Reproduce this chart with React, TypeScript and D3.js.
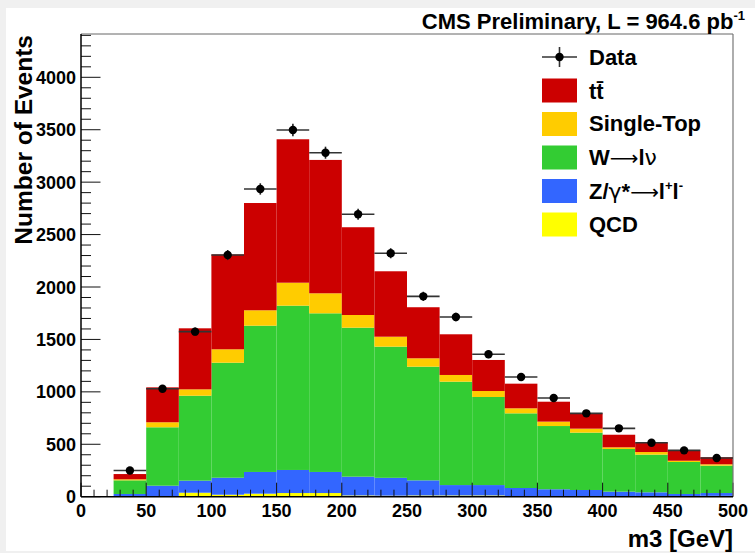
import React from 'react';
import * as d3 from 'd3';

// ---- data ----
const binLow = [25, 50, 75, 100, 125, 150, 175, 200, 225, 250, 275, 300, 325, 350, 375, 400, 425, 450, 475];
const binWidth = 25;
const qcd = [2, 5, 38, 19, 29, 35, 35, 12, 10, 12, 12, 12, 4, 3, 3, 2, 2, 3, 8];
const zll = [24, 100, 115, 162, 207, 220, 201, 179, 170, 144, 99, 99, 79, 68, 61, 46, 40, 23, 27];
const wjets = [130, 557, 810, 1097, 1395, 1567, 1513, 1421, 1251, 1084, 986, 840, 712, 603, 547, 407, 359, 305, 261];
const singleTop = [10, 48, 61, 128, 147, 219, 191, 121, 95, 80, 64, 57, 48, 42, 38, 16, 25, 12, 13];
const ttbar = [50, 333, 582, 904, 1023, 1368, 1272, 837, 624, 487, 388, 296, 235, 190, 146, 120, 89, 96, 67];
const dataCounts = [250, 1030, 1574, 2305, 2935, 3498, 3281, 2694, 2322, 1911, 1714, 1358, 1142, 941, 795, 652, 515, 442, 369];

const xTickLabels = [0, 50, 100, 150, 200, 250, 300, 350, 400, 450, 500];
const yTickLabels = [0, 500, 1000, 1500, 2000, 2500, 3000, 3500, 4000];
const seriesKeys = ['qcd', 'zll', 'wjets', 'singleTop', 'ttbar'];
const seriesColors: Record<string, string> = {
  qcd: '#ffff00',
  zll: '#3366ff',
  wjets: '#33cc33',
  singleTop: '#ffcc00',
  ttbar: '#cc0000',
};

const W = 755;
const H = 553;
const FL = 81, FR = 733, FT = 34, FB = 496.7;
const FONT = "'Liberation Sans', Arial, Helvetica, sans-serif";
const SYM = "'DejaVu Sans', sans-serif";

export default function App() {
  const x = d3.scaleLinear().domain([0, 500]).range([FL, FR]);
  const y = d3.scaleLinear().domain([0, 4413]).range([FB, FT]);

  const rows = binLow.map((lo, i) => ({
    lo,
    qcd: qcd[i],
    zll: zll[i],
    wjets: wjets[i],
    singleTop: singleTop[i],
    ttbar: ttbar[i],
  }));
  const stacked = d3.stack<any>().keys(seriesKeys)(rows);

  const xMinor = d3.range(0, 501, 10);
  const yMinor = d3.range(0, 4401, 100);

  const legendX = 542;
  const legendRow = (i: number) => 57 + i * 33.5;
  const legendFont = 22;

  return (
    <svg width={W} height={H} style={{ position: 'fixed', left: 0, top: 0 }} fontFamily={FONT}>
      <rect x={0} y={0} width={W} height={H} fill="#f0f0f0" />
      <rect x={6} y={8} width={W - 6} height={551 - 8} fill="#ffffff" />

      {/* stacked histograms */}
      {stacked.map((layer) => (
        <g key={layer.key}>
          {layer.map((d, i) => (
            <rect
              key={i}
              x={x(d.data.lo)}
              width={x(d.data.lo + binWidth) - x(d.data.lo)}
              y={y(d[1])}
              height={Math.max(0, y(d[0]) - y(d[1]))}
              fill={seriesColors[layer.key]}
            />
          ))}
        </g>
      ))}

      {/* axis ticks (drawn inside frame, on top) */}
      <g stroke="#111" strokeWidth={1}>
        {xMinor.map((t) => (
          <line key={'xm' + t} x1={x(t)} x2={x(t)} y1={FB} y2={FB - (t % 50 === 0 ? 14 : 7)} />
        ))}
        {yMinor.map((t) => (
          <line key={'ym' + t} x1={FL} x2={FL + (t % 500 === 0 ? 19.5 : 10)} y1={y(t)} y2={y(t)} />
        ))}
      </g>

      {/* frame */}
      <line x1={FL} x2={FR} y1={FT} y2={FT} stroke="#666" strokeWidth={1} />
      <line x1={FR} x2={FR} y1={FT} y2={FB} stroke="#777" strokeWidth={1.2} />
      <line x1={FL} x2={FR} y1={FB} y2={FB} stroke="#000" strokeWidth={1.5} />
      <line x1={FL} x2={FL} y1={FT} y2={FB} stroke="#000" strokeWidth={1.5} />

      {/* data points */}
      <g>
        {dataCounts.map((v, i) => {
          const cx = x(binLow[i] + binWidth / 2);
          const cy = y(v);
          const err = Math.sqrt(v);
          return (
            <g key={i}>
              <line x1={x(binLow[i])} x2={x(binLow[i] + binWidth)} y1={cy} y2={cy} stroke="#333" strokeWidth={1.6} />
              <line x1={cx} x2={cx} y1={y(v + err)} y2={y(v - err)} stroke="#222" strokeWidth={1.6} />
              <circle cx={cx} cy={cy} r={4.2} fill="#000" />
            </g>
          );
        })}
      </g>

      {/* tick labels */}
      <g fontSize={18} fontWeight="bold" fill="#000">
        {xTickLabels.map((t) => (
          <text key={'xl' + t} x={x(t)} y={517} textAnchor="middle">{t}</text>
        ))}
        {yTickLabels.map((t) => (
          <text key={'yl' + t} x={76} y={y(t) + 6.5} textAnchor="end">{t}</text>
        ))}
      </g>

      {/* axis titles */}
      <text x={FR} y={547} textAnchor="end" fontSize={24} fontWeight="bold">m3 [GeV]</text>
      <text transform={`translate(32, ${FT + 1}) rotate(-90)`} textAnchor="end" fontSize={24.5} fontWeight="bold">Number of Events</text>

      {/* header */}
      <text x={745} y={29} textAnchor="end" fontSize={22} fontWeight="bold">
        CMS Preliminary, L = 964.6 pb<tspan fontSize={13} dy={-9}>-1</tspan>
      </text>

      {/* legend */}
      <g fontSize={legendFont} fontWeight="bold">
        <line x1={legendX} x2={legendX + 35} y1={legendRow(0)} y2={legendRow(0)} stroke="#333" strokeWidth={1.6} />
        <line x1={legendX + 17.5} x2={legendX + 17.5} y1={legendRow(0) - 10} y2={legendRow(0) + 10} stroke="#333" strokeWidth={1.6} />
        <circle cx={legendX + 17.5} cy={legendRow(0)} r={4.2} fill="#000" />
        <text x={589} y={legendRow(0) + 7.5}>Data</text>

        {['ttbar', 'singleTop', 'wjets', 'zll', 'qcd'].map((k, i) => (
          <rect key={k} x={legendX} y={legendRow(i + 1) - 12} width={35} height={24} fill={seriesColors[k]} />
        ))}
        <text x={589} y={legendRow(1) + 8}>t<tspan>t̄</tspan></text>
        <text x={589} y={legendRow(2) + 7}>Single-Top</text>
        <text x={589} y={legendRow(3) + 7.5}>
          W<tspan fontWeight="normal" fontFamily={SYM} fontSize={20}>⟶</tspan>l<tspan fontWeight="normal" fontFamily={SYM}>ν</tspan>
        </text>
        <text x={589} y={legendRow(4) + 7.5}>
          Z/<tspan fontWeight="normal" fontFamily={SYM}>γ</tspan>*<tspan fontWeight="normal" fontFamily={SYM} fontSize={20}>⟶</tspan>l<tspan fontSize={13} dy={-9}>+</tspan><tspan dy={9}>l</tspan><tspan fontSize={13} dy={-9}>-</tspan>
        </text>
        <text x={589} y={legendRow(5) + 7.5}>QCD</text>
      </g>
    </svg>
  );
}
